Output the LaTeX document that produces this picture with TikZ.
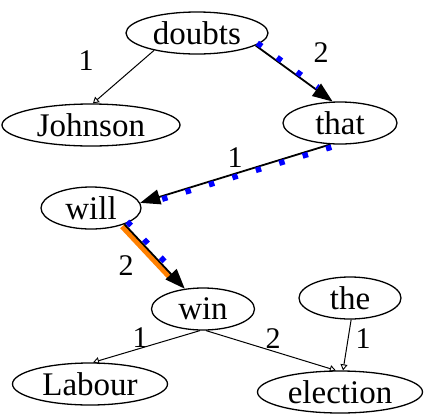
\documentclass[tikz,border=0pt]{standalone}
\usepackage{fontspec}
\setmainfont{Liberation Serif}
\usetikzlibrary{shapes.geometric,arrows.meta,calc}
\tikzset{
  word/.style={ellipse, draw, line width=1.3pt, inner sep=0pt, minimum height=42pt,
    font=\fontsize{33}{40}\selectfont},
  lbl/.style={font=\fontsize{30}{36}\selectfont, inner sep=0pt},
  thinedge/.style={line width=1pt, -{Triangle[open,length=6pt,width=7pt,line width=0.9pt]}},
  thickedge/.style={line width=1.8pt, -{Triangle[length=20pt,width=15pt]}},
  blueline/.style={blue, line width=5.5pt, dash pattern=on 5.5pt off 19pt},
  orangeline/.style={orange, line width=5.5pt},
}
\begin{document}
\begin{tikzpicture}[x=1pt,y=-1pt]
\useasboundingbox (0,0) rectangle (424,416);
\node[word, minimum width=142pt] (doubts) at (197,33) {doubts};
\node[word, minimum width=178pt] (johnson) at (91,125) {Johnson};
\node[word, minimum width=114pt] (that) at (340,123) {that};
\node[word, minimum width=100pt] (will) at (91,208) {will};
\node[word, minimum width=103pt] (win) at (203,309) {win};
\node[word, minimum width=102pt] (the) at (350,298) {the};
\node[word, minimum width=155pt] (labour) at (90,384) {Labour};
\node[word, minimum width=165pt] (election) at (340,392) {election};

% doubts -> Johnson
\draw[thinedge] (doubts.202) -- (johnson.85);
\node[lbl] (l1) at (86,61) {1};

% doubts -> that
\draw[thickedge] (doubts.-12) -- (that.109);
\draw[blueline] ($(doubts.-12)!3pt!90:(that.109)$) -- ($(that.109)!20pt!(doubts.-12)!3pt!-90:(doubts.-12)$);
\node[lbl] (l2) at (321,53) {2};

% that -> will
\draw[thickedge] (that.246) -- (will.6);
\draw[blueline] ($(that.246)!3pt!90:(will.6)$) -- ($(will.6)!20pt!(that.246)!3pt!-90:(that.246)$);
\node[lbl] (l3) at (235,158) {1};

% will -> win
\draw[orangeline] ($(will.-26)!3pt!-90:(win.132)$) -- ($(win.132)!17pt!(will.-26)!3pt!90:(will.-26)$);
\draw[thickedge] (will.-26) -- (win.132);
\draw[blueline] ($(will.-26)!4pt!90:(win.132)$) -- ($(win.132)!20pt!(will.-26)!4pt!-90:(will.-26)$);
\node[lbl] (l4) at (126,266) {2};

% win -> Labour
\draw[thinedge] (win.262) -- (labour.82);
\node[lbl] (l5) at (140,338) {1};

% win -> election
\draw[thinedge] (win.278) -- (election.101);
\node[lbl] (l6) at (273,339) {2};

% the -> election
\draw[thinedge] (the.273) -- (election.82);
\node[lbl] (l7) at (363,339) {1};
\end{tikzpicture}
\end{document}
